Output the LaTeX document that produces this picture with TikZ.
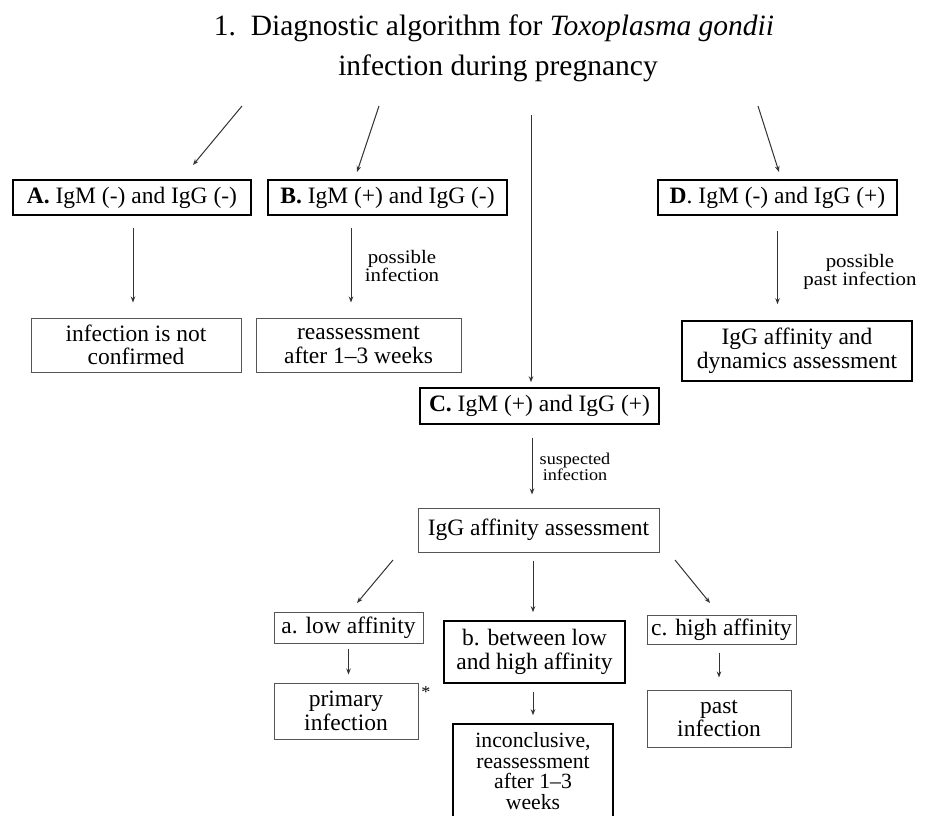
\documentclass[tikz,border=0pt]{standalone}
\usepackage{fontspec}
\setmainfont{Liberation Serif}
\newfontfamily\labelfont[FakeStretch=1.1]{Liberation Serif}
\usetikzlibrary{arrows.meta}
\definecolor{thinline}{HTML}{555555}
\definecolor{arrowcol}{HTML}{333333}
\tikzset{
  boxtext/.style={font=\fontsize{23.5}{23.5}\selectfont, align=center, inner sep=0pt},
  thickbox/.style={boxtext, draw=black, line width=1.6pt},
  thinbox/.style={boxtext, draw=thinline, line width=1.0pt},
  edgelabel/.style={font=\labelfont\fontsize{19}{18}\selectfont, align=center, inner sep=0pt},
  smalllabel/.style={font=\labelfont\fontsize{16.5}{16.5}\selectfont, align=center, inner sep=0pt},
  arr/.style={draw=arrowcol, line width=1.0pt, -{Stealth[length=6pt,width=4.5pt]}},
  titletext/.style={font=\fontsize{29.5}{35}\selectfont, inner sep=0pt, anchor=base}
}
\begin{document}
\begin{tikzpicture}[x=1pt,y=-1pt]
\useasboundingbox (0,0) rectangle (926,816);

% title
\node[titletext] (title1) at (494,36) {1.\ \ Diagnostic algorithm for \textit{Toxoplasma gondii}};
\node[titletext] (title2) at (498,75) {infection during pregnancy};

% first level
\node[thickbox, minimum width=238pt, minimum height=35pt] (A) at (132,197.5) {\textbf{A.} IgM (-) and IgG (-)};
\node[thickbox, minimum width=239pt, minimum height=35pt] (B) at (387.5,197.5) {\textbf{B.} IgM (+) and IgG (-)};
\node[thickbox, minimum width=239pt, minimum height=35pt] (D) at (777.5,197.5) {\textbf{D}. IgM (-) and IgG (+)};

\node[thinbox, minimum width=210pt, minimum height=54pt] (notconf) at (136,345) {infection is not\\confirmed};
\node[thinbox, minimum width=205pt, minimum height=54pt] (reass) at (358.5,345) {reassessment\\after 1–3 weeks};
\node[thickbox, minimum width=230pt, minimum height=60pt] (dyn) at (797,351) {IgG affinity and\\dynamics assessment};

\node[thickbox, minimum width=239pt, minimum height=36pt] (C) at (539.5,406) {\textbf{C.} IgM (+) and IgG (+)};
\node[thinbox, minimum width=241pt, minimum height=44pt] (igg) at (538.5,530) {IgG affinity assessment};

\node[thinbox, minimum width=149pt, minimum height=31pt] (lowaff) at (348.5,627.5) {a. low affinity};
\node[thickbox, minimum width=181pt, minimum height=62pt] (midaff) at (534.5,652) {b. between low\\and high affinity};
\node[thinbox, minimum width=149pt, minimum height=29pt] (highaff) at (721.5,629.5) {c. high affinity};

\node[thinbox, minimum width=144pt, minimum height=56pt] (prim) at (346,711) {primary\\infection};
\node[smalllabel] (ast) at (426,692) {*};
\node[thinbox, minimum width=144pt, minimum height=57pt] (past) at (719,718.5) {past\\infection};
\node[thickbox, minimum width=160pt, minimum height=94pt, font=\fontsize{21.7}{20.8}\selectfont] (inc) at (533,771) {inconclusive,\\reassessment\\after 1–3\\weeks};

% edge labels
\node[edgelabel] (lblB) at (402,266) {possible\\infection};
\node[edgelabel] (lblD) at (860,272) {possible\\past infection};
\node[smalllabel] (lblC) at (575,467) {suspected\\infection};

% free ends of the top arrows
\coordinate (sA) at (242,106);
\coordinate (eA) at (193,165);
\coordinate (sB) at (379,106);
\coordinate (eB) at (357,172);
\coordinate (sC) at (531,115);
\coordinate (sD) at (758,106);
\coordinate (eD) at (779,172);
\coordinate (sLa) at (393,560);
\coordinate (eLa) at (357,603);
\coordinate (sHa) at (675,560);
\coordinate (eHa) at (710,603);

\draw[arr] (sA) -- (eA);
\draw[arr] (sB) -- (eB);
\draw[arr] (sD) -- (eD);
\draw[arr, shorten >=5pt] (sC) -- (sC |- C.north);

\draw[arr, shorten <=12pt, shorten >=15pt] ([xshift=1pt]A.south) -- ([xshift=1pt]A.south |- notconf.north);
\draw[arr, shorten <=12pt, shorten >=15pt] ([xshift=-36.5pt]B.south) -- ([xshift=-36.5pt]B.south |- reass.north);
\draw[arr, shorten <=15pt, shorten >=16pt] (D.south) -- (D.south |- dyn.north);
\draw[arr, shorten <=13pt, shorten >=13pt] ([xshift=-7.5pt]C.south) -- ([xshift=-7.5pt]C.south |- igg.north);

\draw[arr] (sLa) -- (eLa);
\draw[arr, shorten <=8pt, shorten >=8pt] ([xshift=-5.5pt]igg.south) -- ([xshift=-5.5pt]igg.south |- midaff.north);
\draw[arr] (sHa) -- (eHa);

\draw[arr, shorten <=5pt, shorten >=8pt] (lowaff.south) -- (lowaff.south |- prim.north);
\draw[arr, shorten <=8pt, shorten >=8pt] ([xshift=-1.5pt]midaff.south) -- ([xshift=-1.5pt]midaff.south |- inc.north);
\draw[arr, shorten <=8pt, shorten >=12pt] ([xshift=-2.5pt]highaff.south) -- ([xshift=-2.5pt]highaff.south |- past.north);
\end{tikzpicture}
\end{document}
